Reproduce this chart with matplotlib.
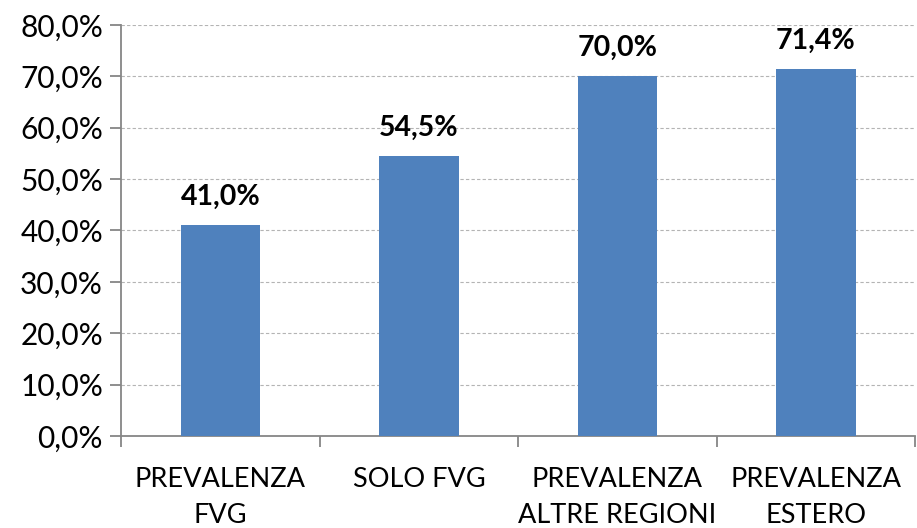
import numpy as np
import matplotlib.pyplot as plt
from matplotlib.ticker import FuncFormatter, MultipleLocator

categorie = ["PREVALENZA\nFVG", "SOLO FVG", "PREVALENZA\nALTRE REGIONI", "PREVALENZA\nESTERO"]
valori = [41.0, 54.5, 70.0, 71.4]

plt.rcParams['font.family'] = ['Lato', 'DejaVu Sans']

fig = plt.figure(figsize=(9.17, 5.28), dpi=100)
ax = fig.add_axes([0.132, 0.174, 0.866, 0.779])

x = np.arange(len(categorie))
ax.bar(x, valori, width=0.4, color="#4F81BD", zorder=3)

for xi, v in zip(x, valori):
    ax.annotate(f"{v:.1f}%".replace(".", ","), (xi, v), xytext=(0, 11),
                textcoords="offset points", ha="center", va="bottom",
                fontsize=20.5, fontweight="bold")

ax.set_ylim(0, 80)
ax.set_xlim(-0.5, 3.5)
ax.yaxis.set_major_locator(MultipleLocator(10))
ax.yaxis.set_major_formatter(FuncFormatter(lambda v, p: f"{v:.1f}%".replace(".", ",")))
ax.grid(axis="y", color="#b4b4b4", linestyle=(0, (3, 2)), linewidth=0.8, zorder=0)

ax.set_xticks(x)
ax.set_xticklabels(categorie, va="top", linespacing=1.55)
ax.set_xticks(np.arange(-0.5, 4, 1), minor=True)
ax.tick_params(axis="x", which="major", length=0, pad=22, labelsize=19.5)
ax.tick_params(axis="x", which="minor", length=8, color="#868686", width=1.3)
ax.tick_params(axis="y", length=8, color="#868686", width=1.3, labelsize=21.5, pad=5)

for s in ["top", "right"]:
    ax.spines[s].set_visible(False)
for s in ["left", "bottom"]:
    ax.spines[s].set_color("#868686")
    ax.spines[s].set_linewidth(1.3)

plt.savefig("out.png", dpi=100)
